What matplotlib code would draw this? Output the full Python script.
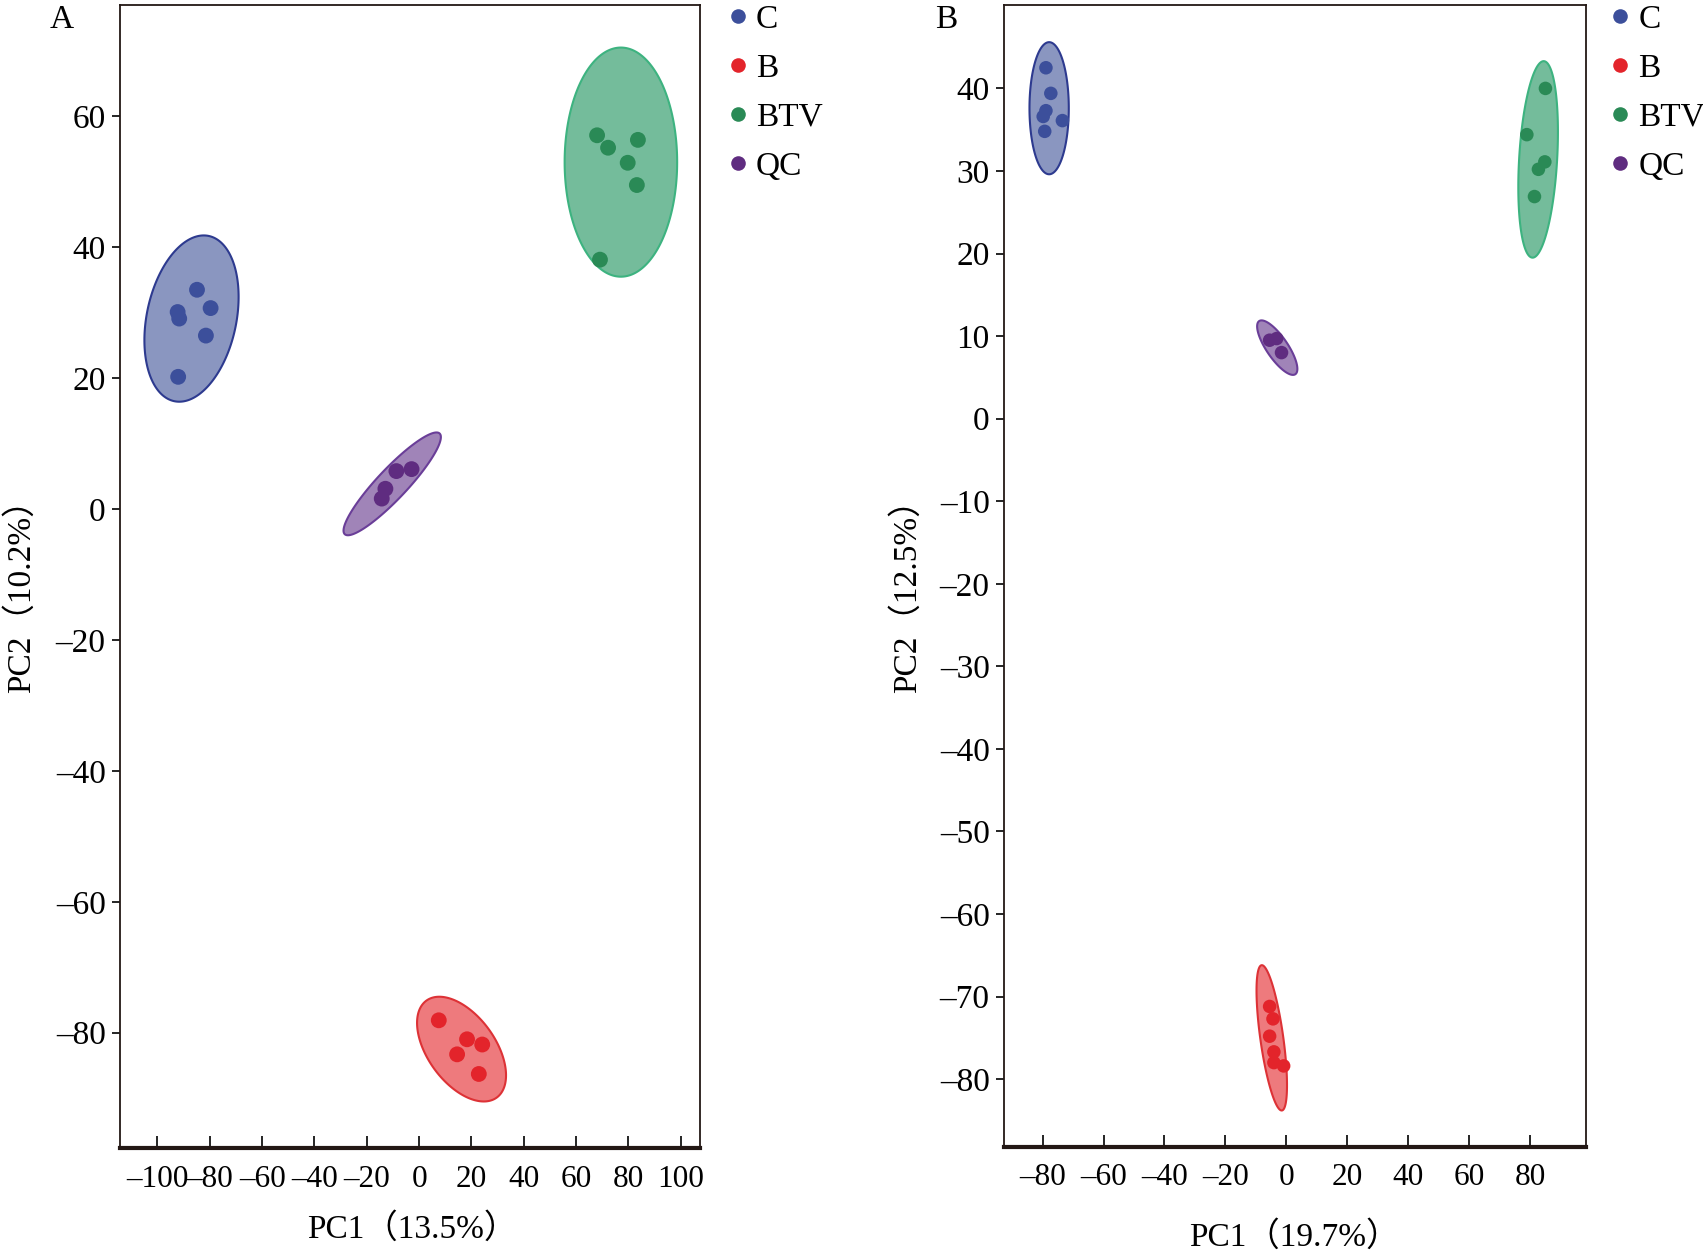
import matplotlib
matplotlib.use("Agg")
import matplotlib.pyplot as plt
import numpy as np
from matplotlib.lines import Line2D
from matplotlib.ticker import FuncFormatter

plt.rcParams['font.family'] = ['Liberation Serif', 'Noto Sans CJK SC', 'DejaVu Sans']
plt.rcParams['font.size'] = 24

groups = ['C', 'B', 'BTV', 'QC']
dot_colors = ['#3C4F9B', '#E3242B', '#2A8A56', '#5F2C80']
fill_colors = ['#8A96C0', '#EE7A7D', '#74BC9B', '#A084B8']
edge_colors = ['#2D3A8F', '#DD3236', '#3DB380', '#6A3E98']

# panel A scores (PC1, PC2)
a_x = {
    'C':   [-92.3, -91.7, -84.9, -79.7, -81.5, -92.1],
    'B':   [7.5, 18.3, 24.1, 14.5, 22.8],
    'BTV': [68.0, 72.2, 83.6, 79.7, 83.2, 69.1],
    'QC':  [-8.7, -2.9, -12.9, -14.3],
}
a_y = {
    'C':   [30.1, 29.1, 33.5, 30.7, 26.5, 20.2],
    'B':   [-78.1, -81.0, -81.8, -83.3, -86.3],
    'BTV': [57.1, 55.2, 56.4, 52.9, 49.5, 38.1],
    'QC':  [5.8, 6.1, 3.1, 1.6],
}
# panel A ellipses: centre x, centre y, half width, half height, correlation
a_ell = {
    'C':   (-87.0, 29.1, 18.0, 12.7, 0.26),
    'B':   (16.2, -82.5, 17.0, 8.0, -0.50),
    'BTV': (77.1, 53.0, 21.5, 17.5, 0.0),
    'QC':  (-10.3, 3.85, 18.6, 7.85, 0.91),
}

# panel B scores
b_x = {
    'C':   [-78.9, -77.3, -78.9, -79.8, -73.5, -79.3],
    'B':   [-5.5, -4.4, -5.5, -4.1, -4.1, -0.9],
    'BTV': [85.0, 78.9, 84.8, 82.7, 81.4],
    'QC':  [-5.5, -3.2, -1.6],
}
b_y = {
    'C':   [42.5, 39.4, 37.3, 36.6, 36.1, 34.8],
    'B':   [-71.2, -72.7, -74.8, -76.7, -78.0, -78.4],
    'BTV': [40.0, 34.4, 31.1, 30.2, 26.9],
    'QC':  [9.5, 9.7, 8.0],
}
b_ell = {
    'C':   (-77.85, 37.6, 6.45, 8.0, 0.0),
    'B':   (-4.8, -75.0, 5.0, 8.8, -0.65),
    'BTV': (82.6, 31.4, 6.5, 11.9, 0.28),
    'QC':  (-3.0, 8.6, 6.6, 3.3, -0.78),
}


def ellipse_xy(cx, cy, rx, ry, rho):
    t = np.linspace(0, 2 * np.pi, 300)
    x = cx + rx * np.cos(t)
    y = cy + ry * (rho * np.cos(t) + np.sqrt(1 - rho ** 2) * np.sin(t))
    return x, y


# short dash for negative numbers, like the original
dash_fmt = FuncFormatter(lambda v, p: ('%g' % v).replace('-', '\u2013'))


def panel(ax, xs, ys, ells, dot_size, xticks, yticks, xlim, ylim,
          xlabel, ylabel, tag, xlab_pos, ylab_x, leg_x):
    for g, dc, fc, ec in zip(groups, dot_colors, fill_colors, edge_colors):
        ex, ey = ellipse_xy(*ells[g])
        ax.fill(ex, ey, facecolor=fc, edgecolor=ec, linewidth=1.5, zorder=1)
        ax.scatter(xs[g], ys[g], s=dot_size, color=dc, edgecolors='none', zorder=3)
    ax.set_xlim(xlim)
    ax.set_ylim(ylim)
    ax.set_xticks(xticks)
    ax.set_yticks(yticks)
    ax.xaxis.set_major_formatter(dash_fmt)
    ax.yaxis.set_major_formatter(dash_fmt)
    ax.tick_params(axis='x', direction='in', length=9, width=1.2, pad=12, labelsize=22.5)
    ax.tick_params(axis='y', direction='out', length=6, width=1.2, pad=4, labelsize=24)
    for s in ax.spines.values():
        s.set_linewidth(1.3)
        s.set_color('#231815')
    ax.spines['bottom'].set_linewidth(3)
    ax.set_xlabel(xlabel, fontsize=24)
    ax.set_ylabel(ylabel, fontsize=24)
    ax.xaxis.set_label_coords(*xlab_pos)
    ax.yaxis.set_label_coords(ylab_x, 0.49)
    handles = [Line2D([], [], marker='o', linestyle='none', markersize=10.5,
                      markerfacecolor=c, markeredgecolor='none') for c in dot_colors]
    ax.legend(handles, groups, loc='upper left', bbox_to_anchor=(leg_x, 1.012),
              frameon=False, fontsize=24, handletextpad=0.15, labelspacing=0.55,
              handlelength=0.8, borderaxespad=0)
    ax.text(-0.099, 0.987, tag, transform=ax.transAxes, fontsize=24, va='center', ha='center')


fig = plt.figure(figsize=(17.03, 12.55), dpi=100)
ax1 = fig.add_axes([0.0702, 0.0853, 0.3411, 0.9107])
ax2 = fig.add_axes([0.5893, 0.0862, 0.3418, 0.9098])

panel(ax1, a_x, a_y, a_ell, 130, np.arange(-100, 101, 20), np.arange(-80, 61, 20),
      (-114.5, 107.5), (-97.6, 77.0), 'PC1（13.5%）', 'PC2（10.2%）', 'A',
      (0.503, -0.057), -0.143, 1.018)
panel(ax2, b_x, b_y, b_ell, 95, np.arange(-80, 81, 20), np.arange(-80, 41, 10),
      (-92.8, 98.2), (-88.2, 50.1), 'PC1（19.7%）', 'PC2（12.5%）', 'B',
      (0.499, -0.065), -0.138, 1.013)

fig.savefig('out.png', dpi=100)
